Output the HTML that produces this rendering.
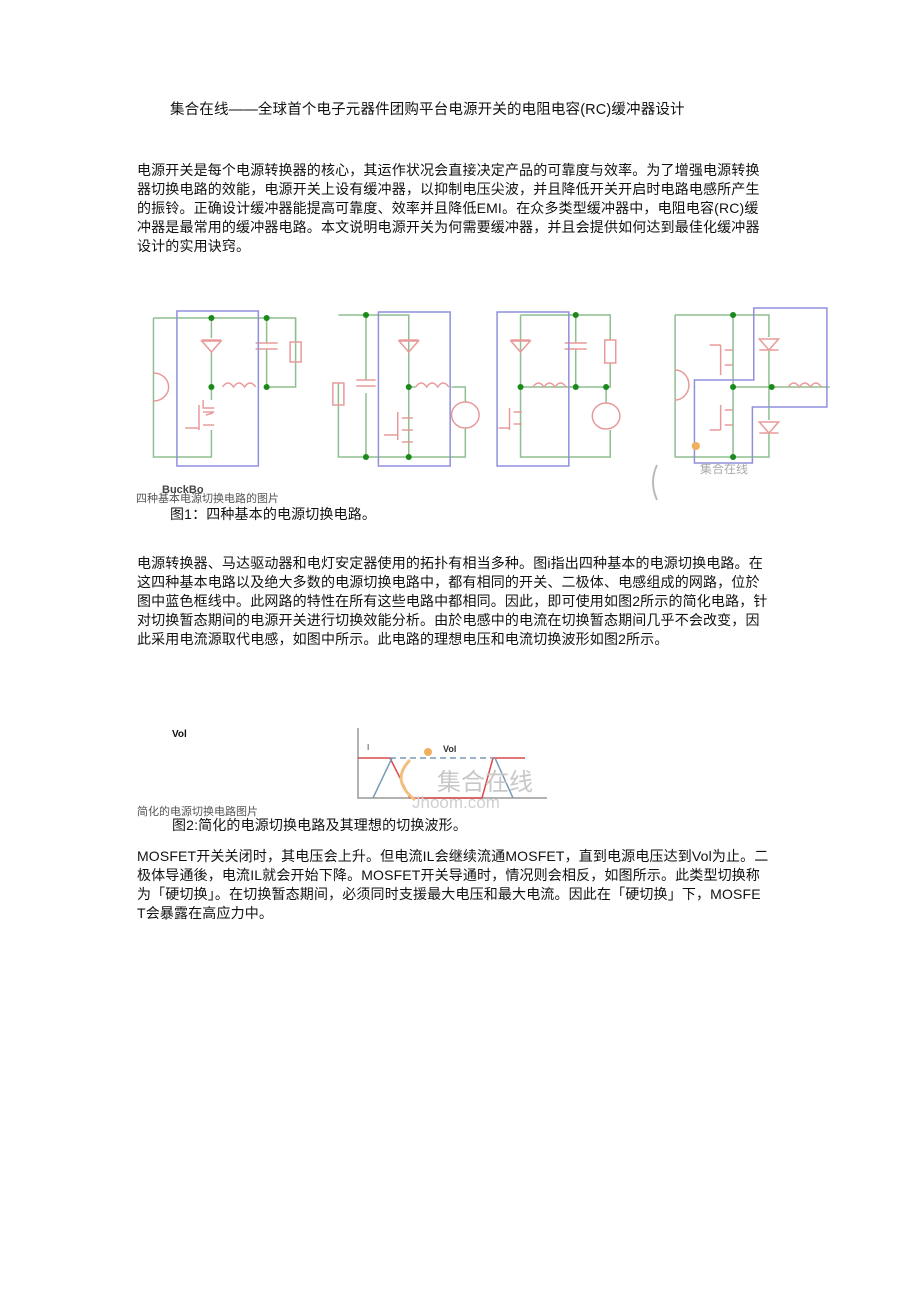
<!DOCTYPE html>
<html><head><meta charset="utf-8"><style>
body{margin:0;background:#fff;}
#p{position:relative;width:920px;height:1303px;overflow:hidden;font-family:"Liberation Sans","Noto Sans CJK SC",sans-serif;color:#111;}
.l{position:absolute;left:137px;font-size:14px;white-space:nowrap;line-height:18px;letter-spacing:0.15px}
.s{position:absolute;font-size:11px;color:#555;white-space:nowrap}
svg *{vector-effect:non-scaling-stroke}
</style></head><body><div id="p">
<div class="l" style="left:170px;top:101px;font-size:14.5px">集合在线——全球首个电子元器件团购平台电源开关的电阻电容(RC)缓冲器设计</div>

<div class="l" style="top:161px">电源开关是每个电源转换器的核心，其运作状况会直接决定产品的可靠度与效率。为了增强电源转换</div>
<div class="l" style="top:180px">器切换电路的效能，电源开关上设有缓冲器，以抑制电压尖波，并且降低开关开启时电路电感所产生</div>
<div class="l" style="top:199px">的振铃。正确设计缓冲器能提高可靠度、效率并且降低EMI。在众多类型缓冲器中，电阻电容(RC)缓</div>
<div class="l" style="top:218px">冲器是最常用的缓冲器电路。本文说明电源开关为何需要缓冲器，并且会提供如何达到最佳化缓冲器</div>
<div class="l" style="top:237px">设计的实用诀窍。</div>

<svg style="position:absolute;left:0;top:0" width="920" height="840" fill="none" stroke-width="1.5">
<g transform="matrix(1.38,0,0,1,-49.4,0)">
<!-- circuit 1 -->
<g stroke="#8fbf8f"><path d="M147 318H250V387H229M189 318V338M189 352V387M229 318V343M229 349V387M189 387V400M189 430V457H147V318"/><path d="M250 342V318"/></g>
<g stroke="#e89a9a"><path d="M147 373a11 14 0 0 1 0 28"/><path d="M189 352l-7-11h14zM182 340h14"/><path d="M221 343h16M221 349h16"/><rect x="246" y="342" width="8" height="20"/><path d="M197 387q4-8 8 0q4-8 8 0q4-8 8 0"/><path d="M170 428h10M180 405v25M183 400v8h8M183 412h8M183 425h8M185 415l5-2"/></g>
<rect x="164" y="311" width="59" height="155" stroke="#8f8fdf"/>
<!-- circuit 2 -->
<g stroke="#8fbf8f"><path d="M281 315H332V457H281V383M281 405V457M301 315V380M301 393V457M332 387H337M363 387H373V402M373 428V457H332"/></g>
<g stroke="#e89a9a"><rect x="277" y="383" width="8" height="22"/><path d="M294 380h14M294 386h14"/><path d="M332 352l-7-11h14zM325 340h14"/><path d="M337 387q4-8 8 0q4-8 8 0q4-8 8 0"/><ellipse cx="373" cy="415" rx="10" ry="13"/><path d="M314 435h10M324 412v28M327 418h8M327 430h8M327 442h8"/></g>
<rect x="310" y="312" width="52" height="154" stroke="#8f8fdf"/>
<!-- circuit 3 -->
<g stroke="#8fbf8f"><path d="M413 315H478V340M478 363V387H413V315M413 387V457H478V430M453 315V343M453 349V387M475 387V403"/></g>
<g stroke="#e89a9a"><path d="M413 352l-7-11h14zM406 340h14"/><path d="M445 343h16M445 349h16"/><rect x="474" y="340" width="8" height="23"/><path d="M422 387q4-8 8 0q4-8 8 0q4-8 8 0"/><ellipse cx="475" cy="416" rx="10" ry="13"/><path d="M397 428h8M405 408v22M408 412h6M408 424h6"/></g>
<rect x="396" y="312" width="52" height="154" stroke="#8f8fdf"/>
<!-- circuit 4 -->
<g stroke="#8fbf8f"><path d="M525 315H593V337M593 350V420M593 433V457H525V315M567 315V457M567 387H637"/></g>
<g stroke="#e89a9a"><path d="M525 370a10 15 0 0 1 0 30"/><path d="M593 350l-7-11h14zM586 350h14"/><path d="M593 433l-7-11h14zM586 433h14"/><path d="M607 387q4-8 8 0q4-8 8 0q4-8 8 0"/><path d="M550 345h8M558 345V375M561 350h6M561 365h6M550 430h8M558 405V430M561 410h6M561 425h6"/></g>
<path d="M539 463V380H582V308H635V407H581V463Z" stroke="#8f8fdf"/>
<ellipse cx="540" cy="446" rx="3" ry="4" fill="#f0b060" stroke="none"/>
<g fill="#1a8a1a" stroke="none"><ellipse cx="189" cy="318" rx="2.2" ry="3"/><ellipse cx="229" cy="318" rx="2.2" ry="3"/><ellipse cx="189" cy="387" rx="2.2" ry="3"/><ellipse cx="229" cy="387" rx="2.2" ry="3"/><ellipse cx="301" cy="315" rx="2.2" ry="3"/><ellipse cx="301" cy="457" rx="2.2" ry="3"/><ellipse cx="332" cy="457" rx="2.2" ry="3"/><ellipse cx="332" cy="387" rx="2.2" ry="3"/><ellipse cx="453" cy="315" rx="2.2" ry="3"/><ellipse cx="413" cy="387" rx="2.2" ry="3"/><ellipse cx="453" cy="387" rx="2.2" ry="3"/><ellipse cx="475" cy="387" rx="2.2" ry="3"/><ellipse cx="567" cy="315" rx="2.2" ry="3"/><ellipse cx="567" cy="387" rx="2.2" ry="3"/><ellipse cx="567" cy="457" rx="2.2" ry="3"/><ellipse cx="595" cy="387" rx="2.2" ry="3"/></g>
</g>
<path d="M657 465q-8 17 0 35" stroke="#bbb" stroke-width="2"/>
<text x="700" y="473" font-size="12" fill="#aaa" stroke="none" font-family="Noto Sans CJK SC,sans-serif">集合在线</text>
<text x="162" y="493" font-size="11" font-weight="bold" fill="#444" stroke="none" font-family="Liberation Sans,sans-serif">BuckBo</text>
<text x="136" y="502" font-size="11" fill="#555" stroke="none" font-family="Liberation Sans,Noto Sans CJK SC,sans-serif">四种基本电源切换电路的图片</text>
<!-- waveform -->
<path d="M358 728V798H547" stroke="#999"/>
<path d="M358 758H390L410 798H482L493 758H525" stroke="#d94a4a"/>
<path d="M390 758H493" stroke="#7a9ab8" stroke-dasharray="6 4"/>
<path d="M373 798L392 758M495 758L513 798" stroke="#7a9ab8"/>
<text x="437" y="790" font-size="24" fill="#c8c8c8" stroke="none" font-family="Noto Sans CJK SC,sans-serif">集合在线</text>
<text x="412" y="808" font-size="17" fill="#cfcfcf" stroke="none" font-family="Liberation Sans,sans-serif">Jhoom.com</text>
<path d="M410 760q-20 20 5 40" stroke="#f0c080" stroke-width="3"/>
<circle cx="428" cy="752" r="4" fill="#f0b060" stroke="none"/>
<text x="367" y="750" font-size="8" fill="#333" stroke="none">I</text>
<text x="443" y="752" font-size="9" font-weight="bold" fill="#333" stroke="none" font-family="Liberation Sans,sans-serif">Vol</text>
</svg>
<div class="l" style="left:170px;top:505px">图1：四种基本的电源切换电路。</div>

<div class="l" style="top:554px">电源转换器、马达驱动器和电灯安定器使用的拓扑有相当多种。图i指出四种基本的电源切换电路。在</div>
<div class="l" style="top:573px">这四种基本电路以及绝大多数的电源切换电路中，都有相同的开关、二极体、电感组成的网路，位於</div>
<div class="l" style="top:592px">图中蓝色框线中。此网路的特性在所有这些电路中都相同。因此，即可使用如图2所示的简化电路，针</div>
<div class="l" style="top:611px">对切换暂态期间的电源开关进行切换效能分析。由於电感中的电流在切换暂态期间几乎不会改变，因</div>
<div class="l" style="top:630px">此采用电流源取代电感，如图中所示。此电路的理想电压和电流切换波形如图2所示。</div>

<div style="position:absolute;left:172px;top:729px;font-size:10px;font-weight:bold;font-family:Liberation Sans">Vol</div>
<div class="s" style="left:137px;top:803px">简化的电源切换电路图片</div>
<div class="l" style="left:172px;top:816px">图2:简化的电源切换电路及其理想的切换波形。</div>

<div class="l" style="top:847px">MOSFET开关关闭时，其电压会上升。但电流IL会继续流通MOSFET，直到电源电压达到Vol为止。二</div>
<div class="l" style="top:866px">极体导通後，电流IL就会开始下降。MOSFET开关导通时，情况则会相反，如图所示。此类型切换称</div>
<div class="l" style="top:885px">为「硬切换」。在切换暂态期间，必须同时支援最大电压和最大电流。因此在「硬切换」下，MOSFE</div>
<div class="l" style="top:904px">T会暴露在高应力中。</div>
</div></body></html>
